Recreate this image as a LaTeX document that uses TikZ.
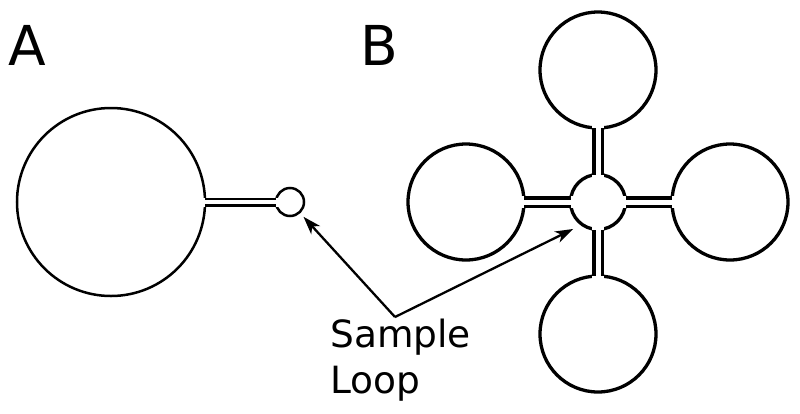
\documentclass[tikz,border=0pt]{standalone}
\usepackage{fontspec}
\setmainfont{DejaVu Sans}
\usetikzlibrary{arrows.meta}
\begin{document}
\begin{tikzpicture}[x=1pt,y=-1pt,
  well/.style={circle, draw, inner sep=0pt, outer sep=0pt},
  panel/.style={anchor=base west, inner sep=0pt, font=\fontsize{55}{60}\selectfont},
  caption/.style={anchor=base west, inner sep=0pt, font=\fontsize{37.5}{40}\selectfont},
  pointer/.style={line width=2.3pt, -{Stealth[length=18pt,width=12pt,inset=5pt]}}]
\useasboundingbox (0,0) rectangle (800,413);
% panel A
\node[panel] (labA) at (8,65) {A};
\node[well, line width=2.5pt, minimum size=188pt] (resA) at (111,202){};
\node[well, line width=2.5pt, minimum size=28pt] (loopA) at (290,202){};
\draw[white, line width=9pt](resA.center) -- (loopA.center);
\draw[line width=2.3pt, double, double distance=4.4pt](resA) -- (loopA);
% panel B
\node[panel] (labB) at (360,65) {B};
\node[well, line width=3.3pt, minimum size=55pt] (hub) at (598,202){};
\node[well, line width=3.3pt, minimum size=116pt] (resL) at (466,202){};
\node[well, line width=3.3pt, minimum size=116pt] (resR) at (730,202){};
\node[well, line width=3.3pt, minimum size=116pt] (resT) at (598,70){};
\node[well, line width=3.3pt, minimum size=116pt] (resB) at (598,334){};
\foreach \r in {resL,resR,resT,resB}{
  \draw[white, line width=11.6pt](hub.center) -- (\r.center);
}
\foreach \r in {resL,resR,resT,resB}{
  \draw[line width=3.3pt, double, double distance=5pt](hub) -- (\r);
}
% sample loop label
\node[caption] (txtS) at (330,347) {Sample};
\node[caption] (txtL) at (330,393) {Loop};
\coordinate (apex) at (395,317);
\draw[pointer, shorten >=6pt](apex) -- (loopA);
\draw[pointer, shorten >=10pt](apex) -- (hub.235);
\end{tikzpicture}
\end{document}
